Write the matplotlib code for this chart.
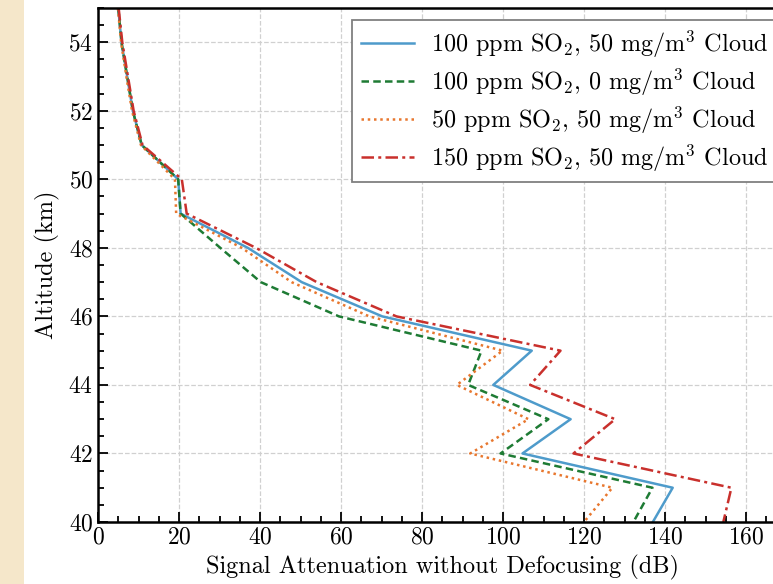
import matplotlib
matplotlib.use('Agg')
import matplotlib.pyplot as plt
from matplotlib.patches import Rectangle
from matplotlib.ticker import MultipleLocator

plt.rcParams['font.family'] = 'serif'
plt.rcParams['font.serif'] = ['cmr10']
plt.rcParams['mathtext.fontset'] = 'cm'
plt.rcParams['axes.unicode_minus'] = False
plt.rcParams['axes.formatter.use_mathtext'] = True

# Altitude levels (km) and attenuation for each SO2 / cloud case (dB)
altitude = [55, 54, 53, 52, 51, 50, 49, 48, 47, 46, 45, 44, 43, 42, 41, 40]
so2_100_cloud_50 = [5.0, 5.8, 7.2, 8.6, 10.8, 19.8, 20.4, 37.0, 50.3, 70.2, 107.1, 97.6, 116.7, 104.8, 141.9, 137.0]
so2_100_cloud_0 = [5.0, 5.8, 7.2, 8.6, 10.8, 19.8, 20.4, 30.2, 40.2, 59.5, 94.7, 91.4, 111.2, 99.4, 136.9, 132.2]
so2_50_cloud_50 = [4.9, 5.7, 7.0, 8.4, 10.6, 19.0, 19.3, 35.5, 47.8, 67.0, 99.9, 88.6, 106.3, 91.9, 127.0, 120.0]
so2_150_cloud_50 = [5.1, 6.0, 7.4, 8.8, 11.0, 20.7, 21.9, 39.0, 54.0, 73.7, 114.2, 106.7, 127.7, 117.4, 156.4, 154.4]

labels = [
    r'100 ppm SO$_2$, 50 mg/m$^3$ Cloud',
    r'100 ppm SO$_2$, 0 mg/m$^3$ Cloud',
    r'50 ppm SO$_2$, 50 mg/m$^3$ Cloud',
    r'150 ppm SO$_2$, 50 mg/m$^3$ Cloud',
]

fig = plt.figure(figsize=(7.73, 5.84), dpi=100)
fig.patch.set_facecolor('white')
# parchment strip down the left edge
fig.patches.append(Rectangle((0, 0), 24 / 773, 1, transform=fig.transFigure,
                             facecolor='#F5E7CA', edgecolor='none', zorder=0))

ax = fig.add_axes([98 / 773, 62 / 584, 688.5 / 773, 514 / 584])

ax.plot(so2_100_cloud_50, altitude, color='#4E9BCB', lw=1.8, ls='-', label=labels[0])
ax.plot(so2_100_cloud_0, altitude, color='#1E7B34', lw=1.8, ls=(0, (3.0, 1.7)), label=labels[1])
ax.plot(so2_50_cloud_50, altitude, color='#E8772E', lw=1.8, ls=(0, (1, 1.5)), label=labels[2])
ax.plot(so2_150_cloud_50, altitude, color='#C9302C', lw=1.8, ls=(0, (5, 1.7, 1.2, 1.7)), label=labels[3])

ax.set_xlim(0, 170)
ax.set_ylim(40, 55)
ax.xaxis.set_major_locator(MultipleLocator(20))
ax.xaxis.set_minor_locator(MultipleLocator(5))
ax.yaxis.set_major_locator(MultipleLocator(2))
ax.yaxis.set_minor_locator(MultipleLocator(0.5))

ax.tick_params(which='both', direction='in', labelsize=17, width=1.3)
ax.tick_params(which='major', length=7)
ax.tick_params(which='minor', length=4.5)
for s in ax.spines.values():
    s.set_linewidth(1.8)

ax.grid(True, which='major', color='#D0D0D0', ls='--', lw=0.9)
ax.set_axisbelow(True)

ax.set_xlabel('Signal Attenuation without Defocusing (dB)', fontsize=17.5, labelpad=4)
ax.set_ylabel('Altitude (km)', fontsize=17.5, labelpad=6)

leg = ax.legend(loc='upper left', bbox_to_anchor=(0.369, 0.977), fontsize=17.4,
                frameon=True, fancybox=False, framealpha=1, edgecolor='#808080',
                borderpad=0.35, labelspacing=0.28, handlelength=2.2, handletextpad=0.72,
                borderaxespad=0)
leg.get_frame().set_linewidth(1.3)

fig.savefig('out.png', dpi=100, facecolor=fig.get_facecolor())
